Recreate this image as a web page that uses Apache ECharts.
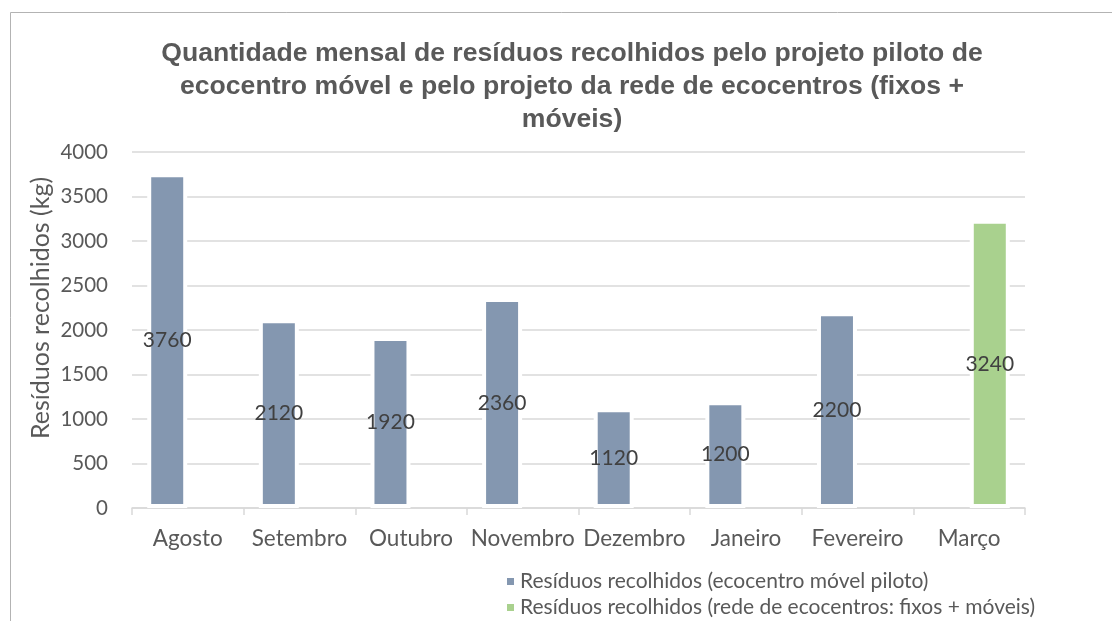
<!DOCTYPE html>
<html>
<head>
<meta charset="utf-8">
<script src="https://cdn.jsdelivr.net/npm/echarts@6/dist/echarts.min.js"></script>
<style>
  html, body { margin: 0; padding: 0; background: #fff; }
  #chart { width: 1112px; height: 621px; }
</style>
</head>
<body>
<div id="chart"></div>
<script>
// meses do eixo x
const months = ['Agosto', 'Setembro', 'Outubro', 'Novembro', 'Dezembro', 'Janeiro', 'Fevereiro', 'Março']
// ecocentro móvel piloto (kg)
const pilotValues = [3760, 2120, 1920, 2360, 1120, 1200, 2200, null]
// rede de ecocentros: fixos + móveis (kg)
const networkValues = [null, null, null, null, null, null, null, 3240]
const seriesNames = [
  'Resíduos recolhidos (ecocentro móvel piloto)',
  'Resíduos recolhidos (rede de ecocentros: fixos + móveis)'
]
const titleLines = [
  'Quantidade mensal de resíduos recolhidos pelo projeto piloto de',
  'ecocentro móvel e pelo projeto da rede de ecocentros (fixos +',
  'móveis)'
]
const yAxisTitle = 'Resíduos recolhidos (kg)'

const labelFont = 'Lato, "Open Sans", sans-serif'
const chart = echarts.init(document.getElementById('chart'))

const barLabel = {
  show: true,
  position: 'inside',
  color: '#404040',
  fontFamily: labelFont,
  fontSize: 21
}

// uma legenda por linha
const legendRow = (name, top) => ({
  left: 500,
  top: top,
  itemWidth: 9,
  itemHeight: 9,
  itemGap: 8,
  icon: 'rect',
  textStyle: {
    color: '#595959',
    fontFamily: labelFont,
    fontSize: 21
  },
  data: [name]
})

chart.setOption({
  animation: false,
  grid: {
    left: 132,
    right: 87,
    top: 152,
    bottom: 113
  },
  graphic: [
    {
      // moldura do gráfico
      type: 'rect',
      shape: { x: 10.5, y: 12.5, width: 1300, height: 800 },
      style: { fill: null, stroke: '#b3b3b3', lineWidth: 1 },
      silent: true
    },
    {
      type: 'text',
      x: 572,
      y: 37,
      style: {
        text: titleLines.join('\n'),
        align: 'center',
        verticalAlign: 'top',
        fill: '#595959',
        font: 'bold 26.6px "Liberation Sans", Arial, sans-serif',
        lineHeight: 33
      }
    },
    {
      // título do eixo y
      type: 'text',
      x: 41,
      y: 308,
      rotation: Math.PI / 2,
      style: {
        text: yAxisTitle,
        align: 'center',
        verticalAlign: 'middle',
        fill: '#595959',
        font: '25px Lato, "Open Sans", sans-serif'
      }
    }
  ],
  legend: [
    legendRow(seriesNames[0], 566),
    legendRow(seriesNames[1], 592)
  ],
  xAxis: {
    type: 'category',
    data: months,
    axisLine: { lineStyle: { color: '#d9d9d9', width: 1.5 } },
    axisTick: { show: true, length: 7, lineStyle: { color: '#d9d9d9', width: 1.5 } },
    axisLabel: {
      interval: 0,
      color: '#595959',
      fontFamily: labelFont,
      fontSize: 22.5,
      margin: 19
    }
  },
  yAxis: {
    type: 'value',
    min: 0,
    max: 4000,
    interval: 500,
    axisLine: { show: false },
    axisTick: { show: false },
    splitLine: { lineStyle: { color: '#d9d9d9', width: 1.5 } },
    axisLabel: {
      formatter: v => String(v),
      color: '#595959',
      fontFamily: labelFont,
      fontSize: 20.5,
      margin: 24
    }
  },
  series: [
    {
      name: seriesNames[0],
      type: 'bar',
      data: pilotValues,
      barWidth: 40,
      barGap: '3%',
      itemStyle: { color: '#8497b0', borderColor: '#fff', borderWidth: 4 },
      label: barLabel
    },
    {
      name: seriesNames[1],
      type: 'bar',
      data: networkValues,
      barWidth: 40,
      itemStyle: { color: '#a9d18e', borderColor: '#fff', borderWidth: 4 },
      label: barLabel
    }
  ]
})
</script>
</body>
</html>
